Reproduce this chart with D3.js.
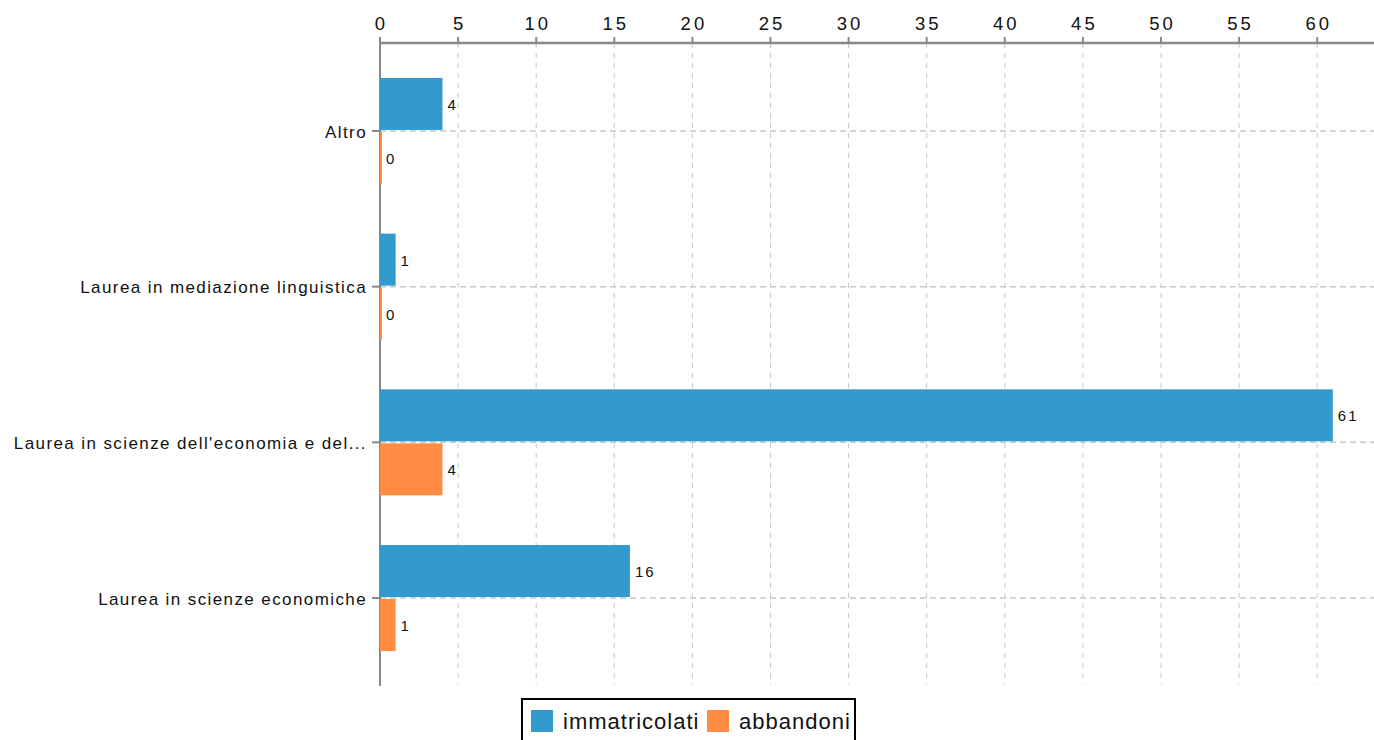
<!DOCTYPE html>
<html><head><meta charset="utf-8">
<script src="https://cdn.jsdelivr.net/npm/d3@7"></script>
<style>
html,body{margin:0;padding:0;background:#fff;overflow:hidden;}
text{font-family:"Liberation Sans",Arial,sans-serif;}
</style></head>
<body>
<svg id="c" width="1374" height="740"></svg>
<script>
const categories = ["Altro","Laurea in mediazione linguistica","Laurea in scienze dell'economia e del...","Laurea in scienze economiche"];
const seriesNames = ["immatricolati","abbandoni"];
const immatricolati = [4,1,61,16];
const abbandoni = [0,0,4,1];
const xTicks = [0,5,10,15,20,25,30,35,40,45,50,55,60];
const colors = ["#339ACE","#FF8C42"];

(function(){
const svg = d3.select("#c");
const pL = 380, pR = 1374, pT = 43, pB = 686;
const x = d3.scaleLinear().domain([0,60]).range([pL, pL + 60*15.62]);
const y = d3.scalePoint().domain(categories).range([pT,pB]).padding(0.565);

// vertical grid
svg.append("g").selectAll("line").data(xTicks).join("line")
  .attr("x1",d=>x(d)).attr("x2",d=>x(d)).attr("y1",pT).attr("y2",pB-2)
  .attr("stroke","#c8c8c8").attr("stroke-width",1).attr("stroke-dasharray","5,5");
// horizontal grid
svg.append("g").selectAll("line").data(categories).join("line")
  .attr("x1",pL).attr("x2",pR).attr("y1",d=>y(d)).attr("y2",d=>y(d))
  .attr("stroke","#c8c8c8").attr("stroke-width",1.5).attr("stroke-dasharray","6,4");

// left axis
svg.append("line").attr("x1",pL).attr("x2",pL).attr("y1",pT).attr("y2",pB)
  .attr("stroke","#888").attr("stroke-width",2);
svg.append("g").selectAll("line").data(categories).join("line")
  .attr("x1",pL-8).attr("x2",pL).attr("y1",d=>y(d)).attr("y2",d=>y(d))
  .attr("stroke","#888").attr("stroke-width",2);
svg.append("g").selectAll("text").data(categories).join("text")
  .attr("x",pL-13).attr("y",d=>y(d)).attr("dy","0.4em")
  .attr("text-anchor","end").attr("font-size",17).attr("letter-spacing","1.4px").attr("fill","#111")
  .text(d=>d);

// top axis
svg.append("line").attr("x1",pL).attr("x2",pR).attr("y1",pT).attr("y2",pT)
  .attr("stroke","#888").attr("stroke-width",2.5);
svg.append("g").selectAll("line").data(xTicks).join("line")
  .attr("x1",d=>x(d)).attr("x2",d=>x(d)).attr("y1",pT-6).attr("y2",pT)
  .attr("stroke","#888").attr("stroke-width",2);
svg.append("g").selectAll("text").data(xTicks).join("text")
  .attr("x",d=>x(d)).attr("dx",1.5).attr("y",30)
  .attr("text-anchor","middle").attr("font-size",18.5).attr("letter-spacing","3px").attr("fill","#111")
  .text(d=>d);

// bars
const series = [immatricolati, abbandoni];
series.forEach((vals,si)=>{
  const g = svg.append("g");
  const bt = c => si===0 ? y(c)-53 : y(c)+1;
  g.selectAll("rect").data(categories).join("rect")
    .attr("x",pL).attr("y",c=>bt(c))
    .attr("width",(c,i)=>Math.max(2, x(vals[i])-x(0))).attr("height",52)
    .attr("fill",colors[si]);
  g.selectAll("text").data(categories).join("text")
    .attr("x",(c,i)=>Math.max(x(vals[i]), pL+1)+5).attr("y",c=>bt(c)+26).attr("dy","0.4em")
    .attr("font-size",15).attr("letter-spacing","2px").attr("fill","#111")
    .text((c,i)=>vals[i]);
});

// legend
const lg = svg.append("g");
lg.append("rect").attr("x",522).attr("y",699).attr("width",333).attr("height",60)
  .attr("fill","#fff").attr("stroke","#000").attr("stroke-width",2);
const lx = [531,707];
seriesNames.forEach((n,i)=>{
  lg.append("rect").attr("x",lx[i]).attr("y",710).attr("width",22).attr("height",22).attr("fill",colors[i]);
  lg.append("text").attr("x",lx[i]+32).attr("y",729).attr("font-size",22).attr("letter-spacing","1px").attr("fill","#111").text(n);
});
})();
</script>
</body></html>
